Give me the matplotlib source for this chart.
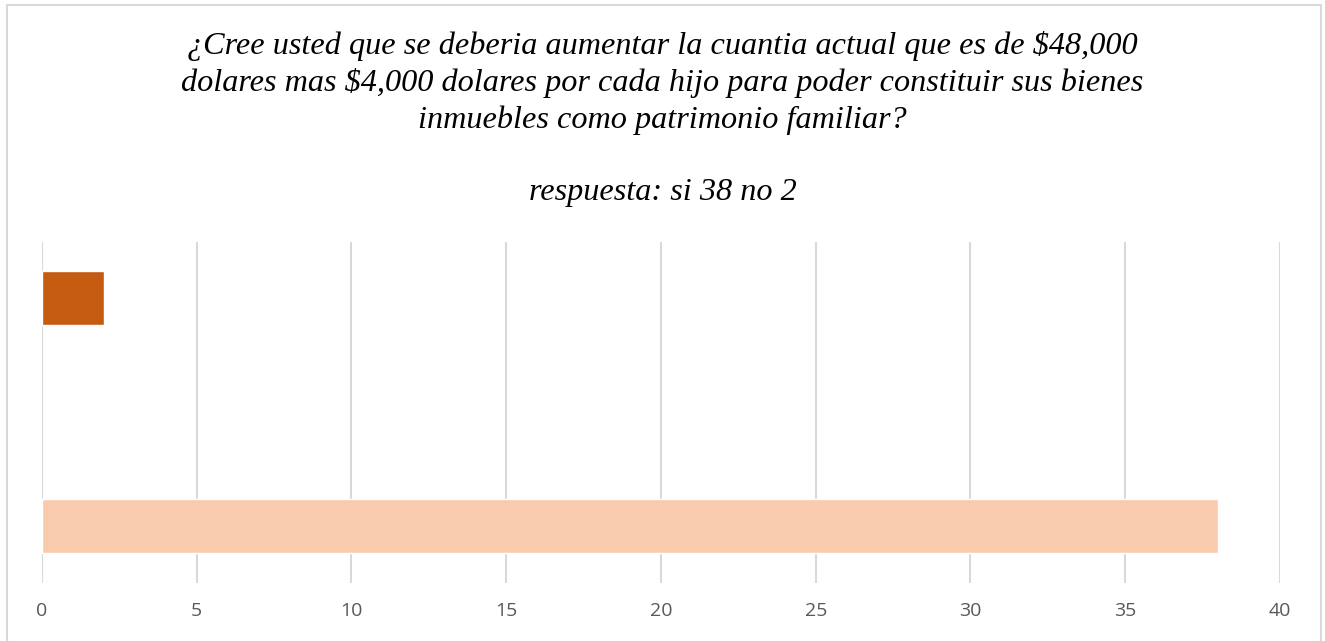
import matplotlib.pyplot as plt
from matplotlib.patches import Rectangle

# datos de la encuesta
categorias = ["si", "no"]
valores = [38, 2]
colores = ["#F8CBAD", "#C55A11"]
ticks_x = [0, 5, 10, 15, 20, 25, 30, 35, 40]

titulo = ("¿Cree usted que se deberia aumentar la cuantia actual que es de $48,000\n"
          "dolares mas $4,000 dolares por cada hijo para poder constituir sus bienes\n"
          "inmuebles como patrimonio familiar?\n"
          "\n"
          "respuesta: si 38 no 2")

W, H = 1325, 641
fig = plt.figure(figsize=(W / 100, H / 100), dpi=100)

# marco gris alrededor del grafico (sin borde inferior visible)
fig.patches.append(Rectangle((7 / W, -0.05), (1321 - 7) / W, 1.05 - 5 / H,
                             transform=fig.transFigure, fill=False,
                             edgecolor="#D9D9D9", linewidth=1.5))

ax = fig.add_axes([42 / W, 1 - 583 / H, (1280 - 42) / W, (583 - 242) / H])

pos = list(range(len(categorias)))
ax.barh(pos, valores, height=0.235, color=colores, edgecolor="white", linewidth=1, zorder=3)

ax.set_xlim(0, 40)
ax.set_ylim(-0.25, 1.245)
ax.set_xticks(ticks_x)
ax.set_yticks([])
ax.grid(axis="x", color="#D9D9D9", linewidth=1.5, zorder=0)
for s in ax.spines.values():
    s.set_visible(False)
ax.tick_params(axis="x", length=0, pad=14, labelsize=14, labelcolor="#595959")
for lab in ax.get_xticklabels():
    lab.set_fontfamily("Open Sans")

fig.text(0.5, 1 - 31 / H, titulo, ha="center", va="top", fontsize=23.2,
         fontstyle="italic", family=["Liberation Serif"], linespacing=1.315)

fig.savefig("out.png", dpi=100)
